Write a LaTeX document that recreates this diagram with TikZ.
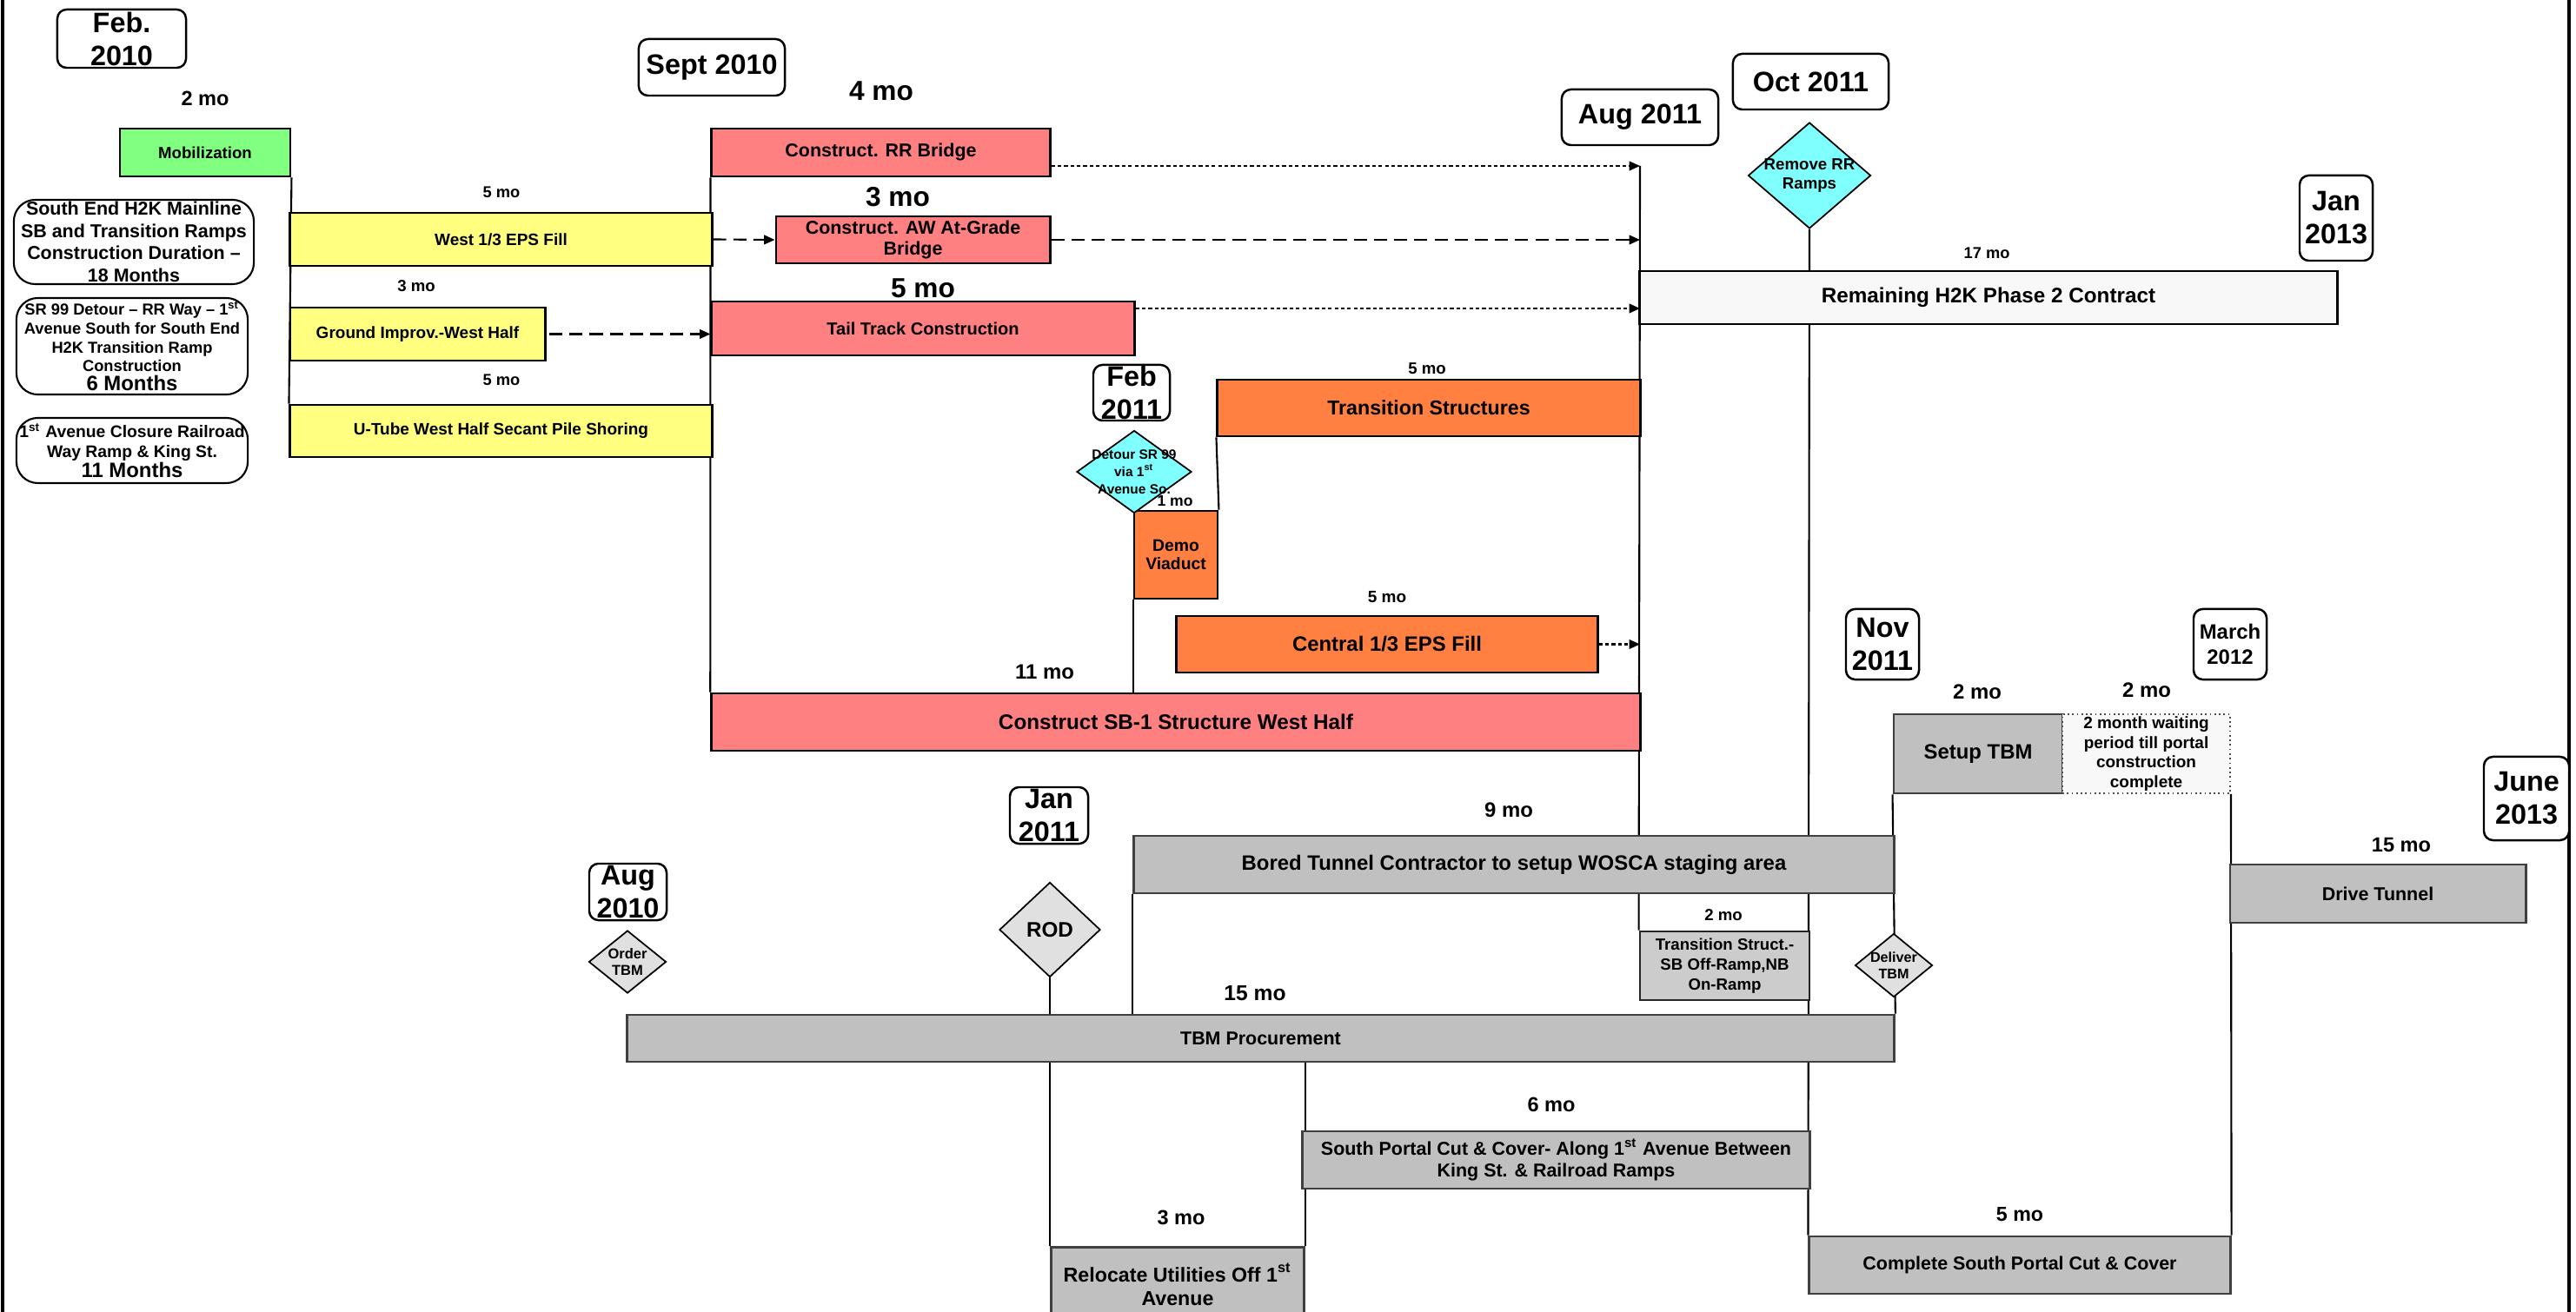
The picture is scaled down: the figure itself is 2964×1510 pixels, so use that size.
\documentclass[tikz,border=0pt]{standalone}
\usepackage{fontspec}
\setmainfont{Liberation Sans}
\usetikzlibrary{arrows.meta,shapes.geometric,backgrounds}
\definecolor{mobgreen}{RGB}{128,255,128}
\definecolor{epsyellow}{RGB}{255,255,128}
\definecolor{rrred}{RGB}{255,128,128}
\definecolor{transorange}{RGB}{255,128,64}
\definecolor{milecyan}{RGB}{128,255,255}
\definecolor{tunnelgray}{RGB}{192,192,192}
\definecolor{structgray}{RGB}{204,204,204}
\definecolor{milegray}{RGB}{224,224,224}
\definecolor{contractwhite}{RGB}{248,248,248}
\tikzset{
  sz/.style 2 args={font=\fontsize{#1pt}{#2pt}\selectfont\bfseries},
  bar/.style={rectangle, draw=black, line width=0.8pt, inner sep=0pt, align=center},
  mobbar/.style={bar, fill=mobgreen},
  ybar/.style={bar, fill=epsyellow},
  rbar/.style={bar, fill=rrred},
  obar/.style={bar, fill=transorange},
  wbar/.style={bar, fill=contractwhite},
  gbar/.style={bar, draw=black!75, fill=tunnelgray},
  lgbar/.style={bar, draw=black!85, fill=structgray},
  waitbar/.style={bar, draw=black!70, line width=0.5pt, densely dotted, fill=contractwhite},
  datebox/.style={rectangle, rounded corners=3pt, draw=black, fill=white, line width=0.7pt,
                  inner sep=0pt, align=center, sz={9.2}{10.8}},
  notebox/.style={rectangle, rounded corners=7pt, draw=black, fill=white, line width=0.6pt,
                  inner sep=0pt, align=center},
  mile/.style={diamond, draw=black, line width=0.5pt, inner sep=0pt},
  cmile/.style={mile, fill=milecyan},
  gmile/.style={mile, fill=milegray},
  link/.style={line width=0.6pt, black},
  dasharr/.style={-{Triangle[length=3.5pt,width=3pt]}, line width=0.6pt, dash pattern=on 4.3pt off 2.3pt},
  dotarr/.style={-{Triangle[length=3.5pt,width=3pt]}, line width=0.6pt, dash pattern=on 1.2pt off 0.9pt},
  frame/.style={line width=1.1pt, black},
}
\begin{document}
\begin{tikzpicture}[x=0.01cm, y=-0.01cm]
  \useasboundingbox (0,0) rectangle (2964,1510);
  \draw[frame] (3,0) -- (3,1510);
  \draw[frame] (2956,0) -- (2956,1510);

  % date boxes
  \node[datebox, minimum width=1.48cm, minimum height=0.67cm] (feb10) at (140,44.5) {Feb.\\2010};
  \node[datebox, minimum width=1.68cm, minimum height=0.65cm] (sep10) at (819,77.5) {Sept 2010};
  \node[datebox, minimum width=1.80cm, minimum height=0.64cm] (aug11) at (1887,135) {Aug 2011};
  \node[datebox, minimum width=1.79cm, minimum height=0.64cm] (oct11) at (2083.5,94) {Oct 2011};
  \node[datebox, minimum width=0.84cm, minimum height=0.98cm] (jan13) at (2688,251) {Jan\\2013};
  \node[datebox, minimum width=0.88cm, minimum height=0.64cm] (feb11) at (1302,452) {Feb\\2011};
  \node[datebox, minimum width=0.90cm, minimum height=0.65cm] (jan11) at (1207,938.5) {Jan\\2011};
  \node[datebox, minimum width=0.89cm, minimum height=0.65cm] (aug10) at (722.5,1026.5) {Aug\\2010};
  \node[datebox, minimum width=0.84cm, minimum height=0.81cm] (nov11) at (2166,741.5) {Nov\\2011};
  \node[datebox, minimum width=0.84cm, minimum height=0.81cm, sz={6.8}{8.3}] (mar12) at (2566,741.5) {March\\2012};
  \node[datebox, minimum width=0.98cm, minimum height=0.96cm] (jun13) at (2907,919) {June\\2013};

  % duration notes
  \node[notebox, minimum width=2.76cm, minimum height=0.97cm, sz={6.1}{7.3}] (note1) at (154,278.5)
    {South End H2K Mainline\\SB and Transition Ramps\\Construction Duration --\\18 Months};
  \node[notebox, minimum width=2.66cm, minimum height=1.11cm, sz={5.2}{6.2}] (note2) at (152,398.5)
    {SR 99 Detour -- RR Way -- 1\textsuperscript{st}\\Avenue South for South End\\H2K Transition Ramp\\Construction\\{\fontsize{6.8pt}{7pt}\selectfont 6 Months}};
  \node[notebox, minimum width=2.66cm, minimum height=0.75cm, sz={5.5}{6.5}] (note3) at (152,518.5)
    {1\textsuperscript{st} Avenue Closure Railroad\\Way Ramp \& King St.\\{\fontsize{6.8pt}{7pt}\selectfont 11 Months}};

  % activity bars
  \node[mobbar, minimum width=1.96cm, minimum height=0.55cm, sz={5.3}{6.3}] (mob) at (236,175.5) {Mobilization};
  \node[ybar, minimum width=4.85cm, minimum height=0.61cm, sz={5.4}{6.4}] (west) at (576.5,275.5) {West 1/3 EPS Fill};
  \node[ybar, minimum width=2.93cm, minimum height=0.61cm, sz={5.4}{6.4}] (grd) at (480.5,384.5) {Ground Improv.-West Half};
  \node[ybar, minimum width=4.85cm, minimum height=0.60cm, sz={5.4}{6.4}] (utube) at (576.5,496) {U-Tube West Half Secant Pile Shoring};
  \node[rbar, minimum width=3.89cm, minimum height=0.55cm, sz={6.1}{7.1}] (rrb) at (1013.5,175.5) {Construct. RR Bridge};
  \node[rbar, minimum width=3.15cm, minimum height=0.54cm, sz={6.1}{7.1}] (aw) at (1050.5,276) {Construct. AW At-Grade\\Bridge};
  \node[rbar, minimum width=4.86cm, minimum height=0.62cm, sz={5.7}{6.8}] (tail) at (1062,378) {Tail Track Construction};
  \node[obar, minimum width=4.86cm, minimum height=0.65cm, sz={6.6}{7.6}] (trans) at (1644,469.5) {Transition Structures};
  \node[obar, minimum width=0.96cm, minimum height=1.01cm, sz={5.5}{6.0}] (demo) at (1353,638.5) {Demo\\Viaduct};
  \node[obar, minimum width=4.84cm, minimum height=0.65cm, sz={6.8}{7.8}] (central) at (1596,741.5) {Central 1/3 EPS Fill};
  \node[rbar, minimum width=10.68cm, minimum height=0.66cm, sz={6.9}{7.9}] (sb1) at (1353,831) {Construct SB-1 Structure West Half};
  \node[wbar, minimum width=8.02cm, minimum height=0.61cm, sz={6.9}{7.9}] (rem) at (2288,342.5) {Remaining H2K Phase 2 Contract};
  \node[gbar, minimum width=8.74cm, minimum height=0.66cm, sz={6.8}{7.8}] (bored) at (1742,995) {Bored Tunnel Contractor to setup WOSCA staging area};
  \node[lgbar, minimum width=1.95cm, minimum height=0.79cm, sz={5.3}{6.5}] (trs) at (1984.5,1111.5) {Transition Struct.-\\SB Off-Ramp,NB\\On-Ramp};
  \node[gbar, minimum width=14.57cm, minimum height=0.54cm, sz={6.1}{7.1}] (tbm) at (1450.5,1195) {TBM Procurement};
  \node[gbar, minimum width=5.83cm, minimum height=0.66cm, sz={6.1}{7.1}] (south) at (1790.5,1335)
    {South Portal Cut \& Cover- Along 1\textsuperscript{st} Avenue Between\\King St. \& Railroad Ramps};
  \node[gbar, minimum width=2.91cm, minimum height=0.86cm, anchor=north west, sz={6.6}{7.7}] (reloc) at (1208,1434)
    {Relocate Utilities Off 1\textsuperscript{st}\\Avenue};
  \node[gbar, minimum width=1.94cm, minimum height=0.91cm, sz={6.8}{7.8}] (setup) at (2276,867.5) {Setup TBM};
  \node[waitbar, minimum width=1.93cm, minimum height=0.91cm, sz={5.4}{6.4}] (wait) at (2469.5,867.5)
    {2 month waiting\\period till portal\\construction\\complete};
  \node[gbar, minimum width=3.40cm, minimum height=0.67cm, sz={6.1}{7.1}] (drive) at (2736,1028.5) {Drive Tunnel};
  \node[gbar, minimum width=4.84cm, minimum height=0.66cm, sz={6.1}{7.1}] (cspc) at (2324,1456) {Complete South Portal Cut \& Cover};

  % milestones
  \node[cmile, minimum width=1.41cm, minimum height=1.22cm] (remove) at (2082,202) {};
  \node[sz={5.3}{6.0}, align=center, inner sep=0pt] (removet) at (remove) {Remove RR\\Ramps};
  \node[cmile, minimum width=1.32cm, minimum height=0.95cm] (detour) at (1305,543) {};
  \node[sz={4.4}{5.6}, align=center, inner sep=0pt] (detourt) at (detour) {Detour SR 99\\via 1\textsuperscript{st}\\Avenue So.};
  \node[gmile, minimum width=0.89cm, minimum height=0.72cm] (order) at (722,1107) {};
  \node[sz={4.7}{5.3}, align=center, inner sep=0pt] (ordert) at (order) {Order\\TBM};
  \node[gmile, minimum width=1.16cm, minimum height=1.09cm] (rod) at (1208,1070) {};
  \node[sz={6.9}{7.9}, inner sep=0pt] (rodt) at (rod) {ROD};
  \node[gmile, minimum width=0.89cm, minimum height=0.73cm] (deliver) at (2179,1111) {};
  \node[sz={4.6}{5.2}, align=center, inner sep=0pt] (delivert) at (deliver) {Deliver\\TBM};

  % durations
  \foreach \nm/\px/\py/\fs/\txt in {d2a/236/113/6.7/2 mo, d5a/577/221/5.2/5 mo, d3a/479/329/5.3/3 mo,
      d5b/577/437/5.2/5 mo, d4a/1014/105/9/4 mo, d3b/1033/227/9/3 mo, d5c/1062/332/9/5 mo,
      d5d/1642/424/5.3/5 mo, d1a/1352/577/5/1 mo, d5e/1596/687/5.4/5 mo, d11a/1202/773/6.8/11 mo,
      d17a/2286/291/5.2/17 mo, d9a/1736/932/6.8/9 mo, d15a/1444/1143/7/15 mo, d6a/1785/1271/6.7/6 mo,
      d3c/1359/1401/6.7/3 mo, d2b/2275/796/6.8/2 mo, d2c/2470/794/6.8/2 mo, d15b/2763/973/6.7/15 mo,
      d2d/1983/1053/5.3/2 mo, d5f/2324/1398/6.6/5 mo}
    {\node[sz={\fs}{\fs}, inner sep=0pt] (\nm) at (\px,\py) {\txt};}

  % arrows to the Aug 2011 line
  \coordinate (augtop) at (1887,191);
  \coordinate (tailtip) at (1887,355);
  \draw[dasharr] (west.east) -- (aw.west);
  \draw[dasharr] ([xshift=1pt]grd.east) -- (grd.east -| tail.west);
  \draw[dotarr] (rrb.east |- augtop) -- (augtop);
  \draw[dasharr] (aw.east) -- (aw.east -| augtop);
  \draw[dotarr] (tail.east |- tailtip) -- (tailtip);
  \draw[dotarr] (central.east) -- (central.east -| augtop);

  % dependency lines
  \begin{scope}[on background layer]
    \draw[link] (mob.south east) -- (utube.north west);
    \draw[link] (rrb.south west) -- (sb1.north west);
    \draw[link] (augtop) -- (trs.north west);
    \draw[link] (remove.south) -- (cspc.north west);
    \draw[link] (trans.south west) -- (demo.north east);
    \draw[link] (demo.south west) -- (demo.south west |- sb1.north);
    \draw[link] (rod.south) -- (reloc.north west);
    \draw[link] (bored.south west) -- (bored.south west |- tbm.north);
    \draw[link] (tbm.south -| reloc.north east) -- (reloc.north east);
    \draw[link] (setup.south west) -- (tbm.north east);
    \draw[link] (wait.south east) -- (cspc.north east);
  \end{scope}
\end{tikzpicture}
\end{document}
